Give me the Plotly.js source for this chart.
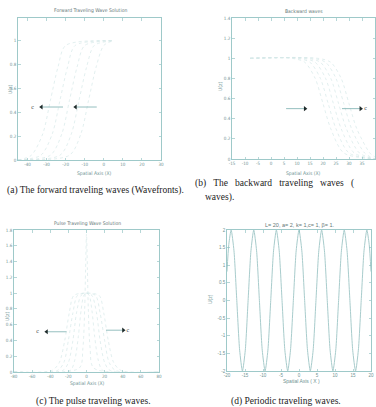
<!DOCTYPE html>
<html><head><meta charset="utf-8">
<script src="https://cdn.plot.ly/plotly-3.0.1.min.js"></script>
<style>html,body{margin:0;padding:0;background:#fff;overflow:hidden}#chart{width:376px;height:407px}</style>
</head><body><div id="chart"></div>
<script>
// ---------------- data ----------------
// (a) forward traveling wavefronts
const forwardCurvesX = [
  [-45,-38,-32,-28,-24,-20,5],
  [-45,-33,-27,-23,-19,-15,5],
  [-45,-28,-22,-18,-14,-10,5],
  [-45,-23,-17,-13,-9,-5,5],
  [-45,-18,-12,-8,-4,0,5]
];
const forwardCurvesY = [
  [0,0.04,0.22,0.5,0.78,0.96,1],
  [0,0.04,0.22,0.5,0.78,0.96,1],
  [0,0.04,0.22,0.5,0.78,0.96,1],
  [0,0.04,0.22,0.5,0.78,0.96,1],
  [0,0.04,0.22,0.5,0.78,0.96,1]
];
const forwardArrowTail = [-3.7, -21.4];
const forwardArrowHead = [-14.8, -32.7];
const forwardArrowY = [0.444, 0.444];
const forwardLabelX = [-37.3];
const forwardLabelY = [0.444];
const forwardXTicks = [-40,-30,-20,-10,0,10,20,30];
const forwardXTickText = ["-40","-30","-20","-10","0","10","20","30"];
const forwardYTicks = [0,0.2,0.4,0.6,0.8,1];
const forwardYTickText = ["0","0.2","0.4","0.6","0.8","1"];

// (b) backward waves
const backwardCurvesX = [
  [-8,8,13,17,20,23,28,40],
  [-8,10,15,19,22,25,30,40],
  [-8,12,17,21,24,27,32,40],
  [-8,14,19,23,26,29,34,40],
  [-8,16,21,25,28,31,36,40],
  [-8,18,23,27,30,33,38,40]
];
const backwardCurvesY = [
  [1,1,0.96,0.8,0.55,0.3,0.06,0],
  [1,1,0.96,0.8,0.55,0.3,0.06,0],
  [1,1,0.96,0.8,0.55,0.3,0.06,0],
  [1,1,0.96,0.8,0.55,0.3,0.06,0],
  [1,1,0.96,0.8,0.55,0.3,0.06,0],
  [1,1,0.96,0.8,0.55,0.3,0.06,0.02]
];
const backwardArrowTail = [5.8, 27.3];
const backwardArrowHead = [13.1, 34.5];
const backwardArrowY = [0.5, 0.5];
const backwardLabelX = [36.4];
const backwardLabelY = [0.5];
const backwardXTicks = [-15,-10,-5,0,5,10,15,20,25,30,35,40];
const backwardXTickText = ["-15","-10","-5","0","5","10","15","20","25","30","35","40"];
const backwardYTicks = [0,0.2,0.4,0.6,0.8,1,1.2,1.4];
const backwardYTickText = ["0","0.2","0.4","0.6","0.8","1","1.2","1.4"];

// (c) pulse traveling waves
const pulseCurvesX = [
  [-80,-38,-30,-24,-19,-14,0,14,19,24,30,38,80],
  [-80,-32,-25,-20,-15,-10,0,10,15,20,25,32,80],
  [-80,-26,-20,-15,-11,-6,0,6,11,15,20,26,80],
  [-80,-18,-13,-9,-6,-3,0,3,6,9,13,18,80],
  [-80,-8,-4,-2,-1,0,1,2,4,8,80]
];
const pulseCurvesY = [
  [0,0.02,0.12,0.4,0.75,0.97,1,0.97,0.75,0.4,0.12,0.02,0],
  [0,0.02,0.12,0.4,0.75,0.97,1,0.97,0.75,0.4,0.12,0.02,0],
  [0,0.02,0.12,0.4,0.75,0.97,1,0.97,0.75,0.4,0.12,0.02,0],
  [0,0.02,0.15,0.45,0.78,0.97,1,0.97,0.78,0.45,0.15,0.02,0],
  [0,0.05,0.3,0.8,1.3,1.75,1.3,0.8,0.3,0.05,0]
];
const pulseArrowTail = [-22, 21.5];
const pulseArrowHead = [-44, 40.6];
const pulseArrowY = [0.51, 0.53];
const pulseLabelX = [-54, 45.5];
const pulseLabelY = [0.51, 0.53];
const pulseXTicks = [-80,-60,-40,-20,0,20,40,60,80];
const pulseXTickText = ["-80","-60","-40","-20","0","20","40","60","80"];
const pulseYTicks = [0,0.2,0.4,0.6,0.8,1,1.2,1.4,1.6,1.8];
const pulseYTickText = ["0","0.2","0.4","0.6","0.8","1","1.2","1.4","1.6","1.8"];

// (d) periodic traveling waves
const periodicX = [-20,-19.5,-18.85,-18.06,-17.28,-16.49,-15.71,-14.92,-14.14,-13.35,-12.57,-11.78,-11.0,-10.21,-9.42,-8.64,-7.85,-7.07,-6.28,-5.5,-4.71,-3.93,-3.14,-2.36,-1.57,-0.79,0,0.79,1.57,2.36,3.14,3.93,4.71,5.5,6.28,7.07,7.85,8.64,9.42,10.21,11.0,11.78,12.57,13.35,14.14,14.92,15.71,16.49,17.28,18.06,18.85,19.5,20];
const periodicY = [0.82,1.59,2,1.41,0,-1.41,-2,-1.41,0,1.41,2,1.41,0,-1.41,-2,-1.41,0,1.41,2,1.41,0,-1.41,-2,-1.41,0,1.41,2,1.41,0,-1.41,-2,-1.41,0,1.41,2,1.41,0,-1.41,-2,-1.41,0,1.41,2,1.41,0,-1.41,-2,-1.41,0,1.41,2,1.59,0.82];
const periodicXTicks = [-20,-15,-10,-5,0,5,10,15,20];
const periodicXTickText = ["-20","-15","-10","-5","0","5","10","15","20"];
const periodicYTicks = [-2,-1.5,-1,-0.5,0,0.5,1,1.5,2];
const periodicYTickText = ["-2","-1.5","-1","-0.5","0","0.5","1","1.5","2"];

const titles = ["Forward Traveling Wave Solution","Backward waves","Pulse Traveling Wave Solution","L= 20, a= 2, k= 1,c= 1, \u03b2= 1."];
const xTitles = ["Spatial Axis (X)","Spatial Axis (X)","Spatial Axis (X)","Spatial Axis ( X )"];
const yTitle = "U(z)";
const captions = ["(a) The forward traveling waves (Wavefronts).","(b)\u00a0\u00a0\u00a0The\u00a0\u00a0\u00a0backward\u00a0\u00a0\u00a0traveling\u00a0\u00a0\u00a0waves\u00a0\u00a0\u00a0(","waves).","(c) The pulse traveling waves.","(d) Periodic traveling waves."];

// ---------------- layout helpers ----------------
const W = 376, H = 407;
const px = v => v / W;
const py = v => 1 - v / H;
const AX = "#86bcbc";
const TXT = "#6f9494";
const FAINT = "#d6e8e8";
const NARROW = "Liberation Sans Narrow, DejaVu Sans Condensed, Liberation Sans, sans-serif";
const SANS = "Liberation Sans, Arial, sans-serif";
const SERIF = "Liberation Serif, DejaVu Serif, serif";

function axisBase(tv, tt, rng, dom, anchor, fam, size) {
  return {
    domain: dom, range: rng, anchor: anchor, tickmode: "array", tickvals: tv, ticktext: tt,
    ticks: "inside", ticklen: 2.5, tickwidth: 0.6, tickcolor: AX,
    showline: true, linecolor: AX, linewidth: 0.8, mirror: "allticks",
    showgrid: false, zeroline: false, fixedrange: true,
    tickfont: {family: fam, size: size, color: TXT}, automargin: false
  };
}

const traces = [];
function addCurves(xs, ys, xa, ya, color, width) {
  xs.forEach((x, i) => traces.push({x: x, y: ys[i], xaxis: xa, yaxis: ya, type: "scatter", mode: "lines",
    line: {color: color, width: width, shape: "spline", smoothing: 0.8, dash: "dot"}, hoverinfo: "skip", showlegend: false}));
}
function addArrows(tails, heads, ys, xa, ya, labelX, labelY) {
  tails.forEach((t, i) => {
    traces.push({x: [t, heads[i]], y: [ys[i], ys[i]], xaxis: xa, yaxis: ya, type: "scatter", mode: "lines",
      line: {color: "#7aaeae", width: 0.8}, hoverinfo: "skip", showlegend: false});
  });
  traces.push({x: heads, y: ys, xaxis: xa, yaxis: ya, type: "scatter", mode: "markers",
    marker: {symbol: heads.map((h, i) => h < tails[i] ? "triangle-left" : "triangle-right"), size: 4.5, color: "#1e2a2a"},
    hoverinfo: "skip", showlegend: false});
  traces.push({x: labelX, y: labelY, xaxis: xa, yaxis: ya, type: "scatter", mode: "text", text: labelX.map(() => "c"),
    textfont: {family: SERIF, size: 6, color: "#333"}, hoverinfo: "skip", showlegend: false});
}

addCurves(forwardCurvesX, forwardCurvesY, "x", "y", FAINT, 0.7);
addArrows(forwardArrowTail, forwardArrowHead, forwardArrowY, "x", "y", forwardLabelX, forwardLabelY);
addCurves(backwardCurvesX, backwardCurvesY, "x2", "y2", FAINT, 0.7);
addArrows(backwardArrowTail, backwardArrowHead, backwardArrowY, "x2", "y2", backwardLabelX, backwardLabelY);
addCurves(pulseCurvesX, pulseCurvesY, "x3", "y3", FAINT, 0.7);
addArrows(pulseArrowTail, pulseArrowHead, pulseArrowY, "x3", "y3", pulseLabelX, pulseLabelY);
traces.push({x: periodicX, y: periodicY, xaxis: "x4", yaxis: "y4", type: "scatter", mode: "lines",
  line: {color: "#a8cccc", width: 1, shape: "spline", smoothing: 0.6}, hoverinfo: "skip", showlegend: false});

const ann = [];
function txt(t, x, y, fam, size, color, opts) {
  ann.push(Object.assign({text: t, x: px(x), y: py(y), xref: "paper", yref: "paper", showarrow: false,
    xanchor: "center", yanchor: "middle", font: {family: fam, size: size, color: color}}, opts || {}));
}
// titles
txt(titles[0], 90, 11, NARROW, 5, "#667777", {});
txt(titles[1], 304, 11, NARROW, 5, "#667777", {});
txt(titles[2], 87, 223, NARROW, 5, "#667777", {});
txt(titles[3], 300, 225, SANS, 5.5, "#667777", {});
// x titles
txt(xTitles[0], 94, 173, NARROW, 5, TXT, {});
txt(xTitles[1], 303, 173, NARROW, 5, TXT, {});
txt(xTitles[2], 87, 383, NARROW, 5, TXT, {});
txt(xTitles[3], 301, 381, SANS, 5, TXT, {});
// y titles
txt(yTitle, 10, 90, NARROW, 5, TXT, {textangle: -90});
txt(yTitle, 220, 87, NARROW, 5, TXT, {textangle: -90});
txt(yTitle, 7, 317, NARROW, 5, TXT, {textangle: -90});
txt(yTitle, 210, 299, SANS, 5, TXT, {textangle: -90});
// captions
txt(captions[0], 186, 190, SERIF, 9.5, "#222", {xanchor: "right"});
txt(captions[1], 193, 183, SERIF, 9.5, "#222", {xanchor: "left"});
txt(captions[2], 203, 197, SERIF, 9.5, "#222", {xanchor: "left"});
txt(captions[3], 93, 401, SERIF, 9.5, "#222", {});
txt(captions[4], 286, 401, SERIF, 9.5, "#222", {});

const layout = {
  width: W, height: H, margin: {l: 0, r: 0, t: 0, b: 0}, paper_bgcolor: "#fff", plot_bgcolor: "#fff",
  showlegend: false,
  xaxis: axisBase(forwardXTicks, forwardXTickText, [-45, 30], [px(18), px(161)], "y", NARROW, 4.5),
  yaxis: axisBase(forwardYTicks, forwardYTickText, [0, 1.19], [py(160), py(18)], "x", NARROW, 4.5),
  xaxis2: axisBase(backwardXTicks, backwardXTickText, [-15, 40], [px(232), px(375)], "y2", NARROW, 4.5),
  yaxis2: axisBase(backwardYTicks, backwardYTickText, [0, 1.4], [py(159), py(18)], "x2", NARROW, 4.5),
  xaxis3: axisBase(pulseXTicks, pulseXTickText, [-80, 80], [px(14), px(159)], "y3", NARROW, 4.5),
  yaxis3: axisBase(pulseYTicks, pulseYTickText, [0, 1.8], [py(372), py(230)], "x3", NARROW, 4.5),
  xaxis4: axisBase(periodicXTicks, periodicXTickText, [-20, 20], [px(227), px(371)], "y4", SANS, 4.5),
  yaxis4: axisBase(periodicYTicks, periodicYTickText, [-2, 2], [py(371), py(230)], "x4", SANS, 4.5),
  annotations: ann
};
Plotly.newPlot("chart", traces, layout, {staticPlot: true, displayModeBar: false});
</script>
</body></html>
